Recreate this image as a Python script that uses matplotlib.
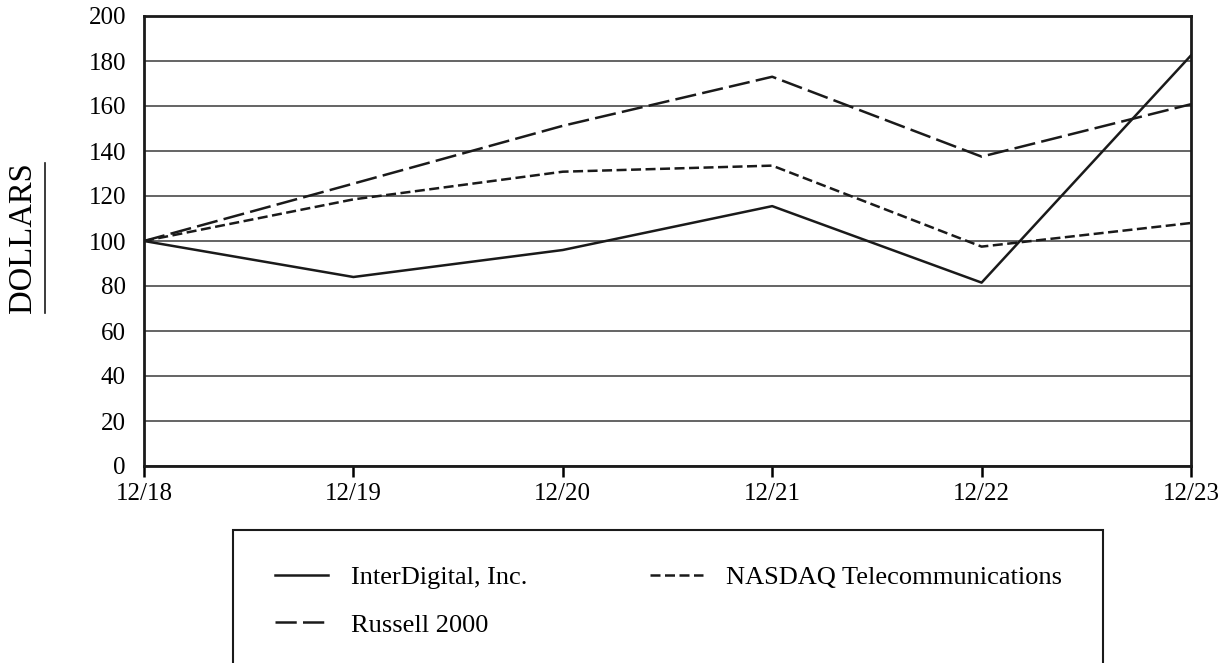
import matplotlib
matplotlib.use("Agg")
import matplotlib.pyplot as plt
from matplotlib.patches import Rectangle
from matplotlib.lines import Line2D

plt.rcParams['font.family'] = ['Liberation Serif', 'DejaVu Serif']

years = ['12/18', '12/19', '12/20', '12/21', '12/22', '12/23']
interdigital = [100, 84, 96, 115.5, 81.5, 182.5]
nasdaq_tel = [100, 118.5, 130.8, 133.5, 97.5, 108]
russell = [100, 125.5, 151.2, 173, 137.5, 160.8]

W, H = 1230, 663
fig = plt.figure(figsize=(12.3, 6.63), dpi=100)
ax = fig.add_axes([144 / W, 1 - 466 / H, (1191 - 144) / W, (466 - 16) / H])

x = list(range(len(years)))
ax.plot(x, interdigital, color='#1a1a1a', lw=1.8, label='InterDigital, Inc.')
ax.plot(x, nasdaq_tel, color='#1a1a1a', lw=1.8, dashes=(4, 1.8), label='NASDAQ Telecommunications')
ax.plot(x, russell, color='#1a1a1a', lw=1.8, dashes=(8.5, 2.5), label='Russell 2000')

ax.set_xlim(0, 5)
ax.set_ylim(0, 200)
ax.set_xticks(x)
ax.set_xticklabels(years)
ax.set_yticks(range(0, 201, 20))
ax.yaxis.grid(True, color='#3a3a3a', lw=1.1)
ax.set_axisbelow(True)
ax.tick_params(axis='y', length=0, labelsize=18, pad=13)
ax.tick_params(axis='x', length=8, width=1.8, labelsize=18, pad=4, direction='out')
for s in ax.spines.values():
    s.set_linewidth(2)
    s.set_color('#1a1a1a')

# y label with underline
fig.text(23 / W, 1 - 238 / H, 'DOLLARS', rotation=90, fontsize=23.5,
         ha='center', va='center')
fig.add_artist(Line2D([45 / W, 45 / W], [1 - 163 / H, 1 - 313 / H],
                      transform=fig.transFigure, color='#1a1a1a', lw=1.2))

# legend box
fig.add_artist(Rectangle((233 / W, -0.05), (1103 - 233) / W, (H - 530) / H + 0.05,
                         transform=fig.transFigure, fill=False, lw=1.5, ec='#1a1a1a'))
h, l = ax.get_legend_handles_labels()
leg = fig.legend([h[0], h[2], h[1]], [l[0], l[2], l[1]], ncol=2, frameon=False,
                 loc='center left', bbox_to_anchor=(275 / W, 1 - 601 / H),
                 borderpad=0, borderaxespad=0,
                 fontsize=19, handlelength=2.0, handletextpad=0.87, columnspacing=4.66,
                 labelspacing=0.92)

fig.savefig('out.png', dpi=100)
